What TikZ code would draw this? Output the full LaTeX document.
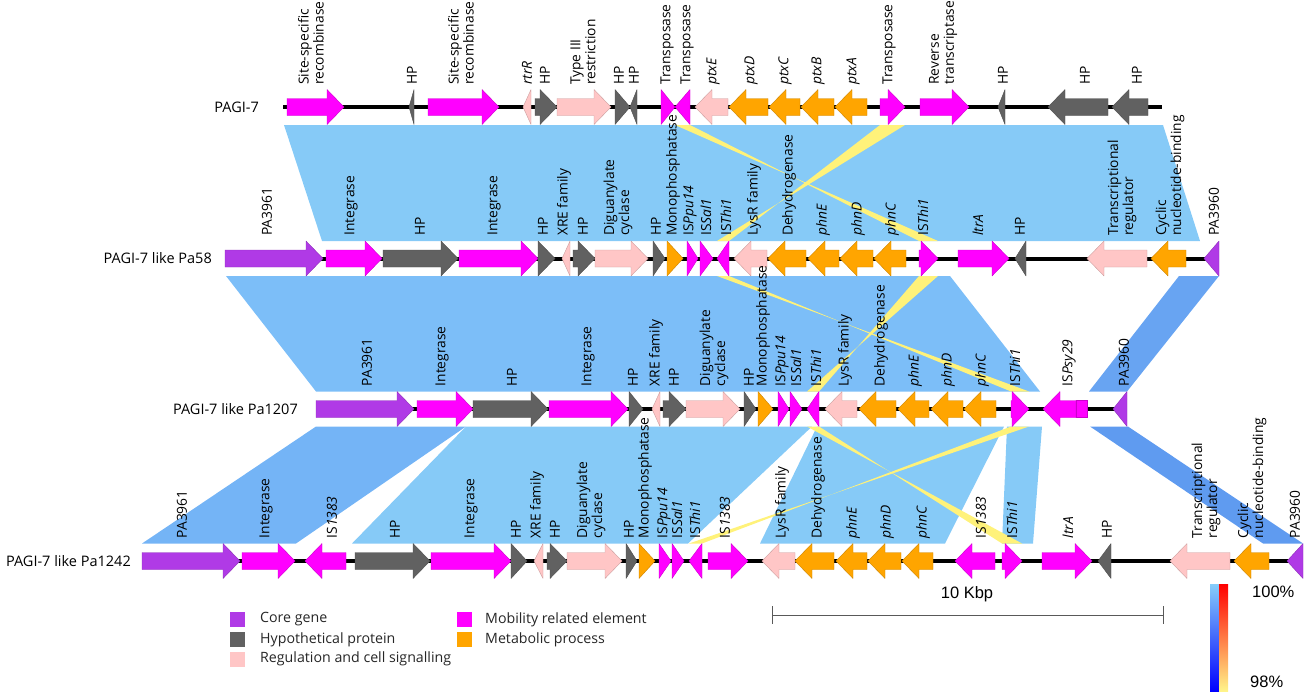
\documentclass[tikz,border=0pt]{standalone}
\usepackage{fontspec}
\setmainfont{Open Sans}
\newfontfamily\barfont{Liberation Sans}
\usepackage{tikz}
\def\headhalf{17.5}
\def\bodyhalf{8.5}
\def\headlen{17}
\definecolor{core}{HTML}{B03AE6}
\definecolor{hp}{HTML}{616161}
\definecolor{reg}{HTML}{FFC6C6}
\definecolor{mob}{HTML}{FF00FF}
\definecolor{met}{HTML}{FFA500}
\definecolor{bandA}{HTML}{86CAF7}
\definecolor{bandB}{HTML}{7CBEF8}
\definecolor{bandC}{HTML}{74B4F6}
\definecolor{bandD}{HTML}{68A4F2}
\definecolor{bandE}{HTML}{5F9BF0}
\definecolor{invyellow}{HTML}{FFF27A}
\definecolor{baryellow}{HTML}{FFF48A}
\definecolor{barorange}{HTML}{FF9A50}
\definecolor{barblue}{HTML}{87CEFA}
\def\genearrow#1#2#3#4{%
  \pgfmathsetmacro\gdir{sign(#3-#2)}%
  \pgfmathsetmacro\gbase{#3-\gdir*min(\headlen,abs(#3-#2))}%
  \filldraw[fill=#4, draw=#4!80!black, line width=0.4pt, line join=round]
    (#2,#1-\bodyhalf) -- (\gbase,#1-\bodyhalf) -- (\gbase,#1-\headhalf) -- (#3,#1)
    -- (\gbase,#1+\headhalf) -- (\gbase,#1+\bodyhalf) -- (#2,#1+\bodyhalf) -- cycle;}

\begin{document}
\begin{tikzpicture}[x=1pt, y=-1pt]
  \tikzstyle{glabel}=[rotate=90, anchor=west, inner sep=0pt, align=left, font=\fontsize{13.8}{15}\selectfont]
  \tikzstyle{track}=[anchor=east, inner sep=0pt, font=\fontsize{14.5}{17}\selectfont]
  \tikzstyle{backbone}=[line width=4pt]
  \tikzstyle{legtext}=[anchor=west, inner sep=0pt, font=\fontsize{14.2}{16}\selectfont, text=black!85]
  \tikzstyle{inv}=[fill=invyellow]
  \tikzstyle{scalebar}=[draw=black!65, line width=1pt]

  \useasboundingbox (0,0) rectangle (1309,691);

  \fill[bandA] (284,125) -- (1163,125) -- (1200,241) -- (322,241) -- cycle;
  \fill[bandB] (226,276) -- (950,276) -- (1040,391.5) -- (316,391.5) -- cycle;
  \fill[bandD] (1179,276) -- (1219,276) -- (1127,391.5) -- (1089,391.5) -- cycle;
  \fill[bandC] (316,426.5) -- (466,426.5) -- (296,543.5) -- (142,543.5) -- cycle;
  \fill[bandA] (466,426.5) -- (812,426.5) -- (688,543.5) -- (352,543.5) -- cycle;
  \fill[bandA] (817,426.5) -- (1004,426.5) -- (945,543.5) -- (760,543.5) -- cycle;
  \fill[bandA] (1007,426.5) -- (1042,426.5) -- (1033,543.5) -- (1002,543.5) -- cycle;
  \fill[bandE] (1090,426.5) -- (1128,426.5) -- (1303,543.5) -- (1263,543.5) -- cycle;

  \fill[inv] (675,125) -- (690,125) -- (919,241) -- (938,241) -- cycle;
  \fill[inv] (880,125) -- (905,125) -- (717,241) -- (729,241) -- cycle;
  \fill[inv] (717,276) -- (729,276) -- (1011,391.5) -- (1029,391.5) -- cycle;
  \fill[inv] (919,276) -- (938,276) -- (807,391.5) -- (819,391.5) -- cycle;
  \fill[inv] (807,426.5) -- (819,426.5) -- (1002,543.5) -- (1022,543.5) -- cycle;
  \fill[inv] (1011,426.5) -- (1029,426.5) -- (689,543.5) -- (702,543.5) -- cycle;

  \draw[backbone] (283,107) -- (1162,107);
  \draw[backbone] (225,258.5) -- (1219,258.5);
  \draw[backbone] (316,409) -- (1127,409);
  \draw[backbone] (142,561) -- (1303,561);

  \foreach \a/\b/\c in {287/344/mob, 414/409/hp, 428/499/mob, 531/523/reg, 535/557/hp,
      557/611/reg, 615/630/hp, 637/630/hp, 661/675/mob, 690/675/mob, 728/695/reg,
      768/729/met, 800/769/met, 834/801/met, 867/835/met, 880/905/mob, 920/969/mob,
      1005/998/hp, 1108/1048/hp, 1148/1112/hp}
    {\genearrow{107}{\a}{\b}{\c}}

  \foreach \a/\b/\c in {225/323/core, 326/382/mob, 383/458/hp, 459/538/mob, 538/555/hp,
      570/562/reg, 573/595/hp, 595/648/reg, 653/665/hp, 667/683/met, 687/698/mob,
      700/713/mob, 729/717/mob, 767/734/reg, 806/768/met, 839/808/met, 873/840/met,
      906/874/met, 919/938/mob, 958/1009/mob, 1026/1015/hp, 1147/1087/reg,
      1186/1151/met, 1219/1204/core}
    {\genearrow{258.5}{\a}{\b}{\c}}

  \foreach \a/\b/\c in {316/414/core, 417/473/mob, 473/548/hp, 549/628/mob, 629/643/hp,
      660/652/reg, 663/686/hp, 686/740/reg, 744/756/hp, 758/773/met, 778/789/mob,
      790/802/mob, 819/807/mob, 857/825/reg, 896/859/met, 929/898/met, 963/931/met,
      996/964/met, 1011/1029/mob, 1076/1043/mob, 1127/1113/core}
    {\genearrow{409}{\a}{\b}{\c}}
  \filldraw[fill=mob, draw=mob!80!black, line width=0.4pt] (1076,400.5) rectangle (1087,417.5);

  \foreach \a/\b/\c in {142/240/core, 242/295/mob, 346/305/mob, 355/430/hp, 431/511/mob,
      511/527/hp, 543/534/reg, 547/567/hp, 567/622/reg, 626/637/hp, 639/655/met,
      659/671/mob, 672/684/mob, 702/689/mob, 708/748/mob, 795/762/reg, 834/795/met,
      867/836/met, 901/868/met, 933/902/met, 995/955/mob, 1002/1022/mob, 1042/1092/mob,
      1111/1098/hp, 1230/1170/reg, 1269/1234/met, 1303/1287/core}
    {\genearrow{561}{\a}{\b}{\c}}

  \foreach \x/\t in {311/{Site-specific\\recombinase}, 412/HP, 461/{Site-specific\\recombinase},
      527/\textit{rtrR}, 545/HP, 583/{Type III\\restriction}, 619/HP, 634/HP,
      667/Transposase, 687/Transposase, 713/\textit{ptxE}, 751/\textit{ptxD},
      785/\textit{ptxC}, 818/\textit{ptxB}, 853/\textit{ptxA}, 889/Transposase,
      943/{Reverse\\transcriptase}, 1003/HP, 1085/HP, 1137/HP}
    \node[glabel] (pagi-\x) at (\x,85) {\t};

  \foreach \x/\t in {267/PA3961, 351/Integrase, 420/HP, 494/Integrase, 543/HP,
      564/XRE family, 583/HP, 618/{Diguanylate\\cyclase}, 656/HP, 673/Monophosphatase,
      690/IS\textit{Ppu14}, 706/IS\textit{Sal1}, 726/IS\textit{Thi1}, 754/LysR family,
      789/Dehydrogenase, 823/\textit{phnE}, 858/\textit{phnD}, 892/\textit{phnC},
      923/IS\textit{Thi1}, 978/\textit{ltrA}, 1020/HP, 1122/{Transcriptional\\regulator},
      1170/{Cyclic\\nucleotide-binding}, 1214/PA3960}
    \node[glabel] (pa58-\x) at (\x,236) {\t};

  \foreach \x/\t in {367/PA3961, 442/Integrase, 512/HP, 588/Integrase, 633/HP,
      656/XRE family, 674/HP, 714/{Diguanylate\\cyclase}, 749/HP, 763/Monophosphatase,
      782/IS\textit{Ppu14}, 796/IS\textit{Sal1}, 816/IS\textit{Thi1}, 845/LysR family,
      881/Dehydrogenase, 915/\textit{phnE}, 948/\textit{phnD}, 982/\textit{phnC},
      1015/IS\textit{Thi1}, 1069/IS\textit{Psy29}, 1124/PA3960}
    \node[glabel] (pa1207-\x) at (\x,386.5) {\t};

  \foreach \x/\t in {182/PA3961, 266/Integrase, 332/IS\textit{1383}, 395/HP, 471/Integrase,
      516/HP, 537/XRE family, 555/HP, 591/{Diguanylate\\cyclase}, 629/HP,
      645/Monophosphatase, 664/IS\textit{Ppu14}, 677/IS\textit{Sal1}, 695/IS\textit{Thi1},
      725/IS\textit{1383}, 782/LysR family, 818/Dehydrogenase, 853/\textit{phnE},
      887/\textit{phnD}, 923/\textit{phnC}, 981/IS\textit{1383}, 1012/IS\textit{Thi1},
      1068/\textit{ltrA}, 1107/HP, 1206/{Transcriptional\\regulator},
      1252/{Cyclic\\nucleotide-binding}, 1295/PA3960}
    \node[glabel] (pa1242-\x) at (\x,538.5) {\t};

  \node[track] (t1) at (259,107) {PAGI-7};
  \node[track] (t2) at (212,258.5) {PAGI-7 like Pa58};
  \node[track] (t3) at (298,409) {PAGI-7 like Pa1207};
  \node[track] (t4) at (131,561) {PAGI-7 like Pa1242};

  \foreach \y/\c/\t in {619.5/core/Core gene, 639.5/hp/Hypothetical protein,
      659/reg/Regulation and cell signalling}
    {\fill[\c] (230,\y-7.5) rectangle (245,\y+7.5);
     \node[legtext] (leg-\c) at (260,\y) {\t};}
  \foreach \y/\c/\t in {619.5/mob/Mobility related element, 639.5/met/Metabolic process}
    {\fill[\c] (457,\y-7.5) rectangle (472,\y+7.5);
     \node[legtext] (leg-\c) at (485,\y) {\t};}

  \coordinate (sbl) at (772,615);
  \coordinate (sbr) at (1163,615);
  \draw[scalebar] (sbl) -- (sbr);
  \draw[scalebar] (sbl) ++(0,-9) -- ++(0,18);
  \draw[scalebar] (sbr) ++(0,-9) -- ++(0,18);
  \node[font=\barfont\fontsize{16.5}{18}\selectfont, inner sep=0pt] (sblabel) at (967,594) {10 Kbp};

  \shade[top color=barblue, bottom color=blue] (1210,584) rectangle (1219,691);
  \shade[top color=red, middle color=barorange, bottom color=baryellow] (1219,584) rectangle (1228,691);
  \node[font=\barfont\fontsize{16.5}{18}\selectfont, anchor=west, inner sep=0pt] (pmax) at (1252,592) {100\%};
  \node[font=\barfont\fontsize{16.5}{18}\selectfont, anchor=west, inner sep=0pt] (pmin) at (1250,682) {98\%};
\end{tikzpicture}
\end{document}
